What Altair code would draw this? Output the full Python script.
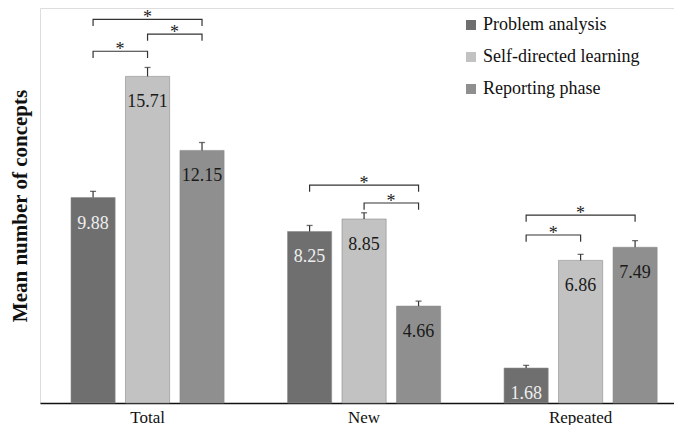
import altair as alt
import pandas as pd

groups = ["Total", "New", "Repeated"]
series = ["Problem analysis", "Self-directed learning", "Reporting phase"]
colors = ["#6f6f6f", "#c2c2c2", "#8f8f8f"]

mean_pa = [9.88, 8.25, 1.68]
mean_sdl = [15.71, 8.85, 6.86]
mean_rp = [12.15, 4.66, 7.49]
err_pa = [0.30, 0.29, 0.13]
err_sdl = [0.43, 0.30, 0.29]
err_rp = [0.38, 0.24, 0.32]

# significance brackets
br_group = ["Total", "Total", "Total", "New", "New", "Repeated", "Repeated"]
br_from = ["Problem analysis", "Self-directed learning", "Problem analysis",
           "Problem analysis", "Self-directed learning",
           "Problem analysis", "Problem analysis"]
br_to = ["Self-directed learning", "Reporting phase", "Reporting phase",
         "Reporting phase", "Reporting phase",
         "Self-directed learning", "Reporting phase"]
br_level = [16.92, 17.74, 18.45, 10.48, 9.62, 8.08, 9.04]
br_drop = 0.32

means = [mean_pa, mean_sdl, mean_rp]
errs = [err_pa, err_sdl, err_rp]
rows = []
for gi, g in enumerate(groups):
    for si, s in enumerate(series):
        rows.append({"group": g, "series": s, "mean": means[si][gi],
                     "top": means[si][gi] + errs[si][gi]})
df = pd.DataFrame(rows)

br_rows = []
star_rows = []
for i, (g, a, b, lv) in enumerate(zip(br_group, br_from, br_to, br_level)):
    for k, (s, v) in enumerate([(a, lv - br_drop), (a, lv), (b, lv), (b, lv - br_drop)]):
        br_rows.append({"bid": i, "k": k, "group": g, "series": s, "val": v})
    ia, ib = series.index(a), series.index(b)
    if ib - ia == 2:
        star_rows.append({"group": g, "series": series[ia + 1], "val": lv, "adj": 0})
    else:
        star_rows.append({"group": g, "series": a, "val": lv, "adj": 1})
br_df = pd.DataFrame(br_rows)
star_df = pd.DataFrame(star_rows)

FONT = "Liberation Serif"

x_enc = alt.X("group:N", sort=groups,
              scale=alt.Scale(paddingInner=0.293, paddingOuter=0.1105, align=0.648),
              axis=alt.Axis(title=None, labelAngle=0, ticks=False, domainColor="#111",
                            domainWidth=1.5, labelFont=FONT, labelFontSize=17,
                            labelColor="#111", labelPadding=6, grid=False))
xo_enc = alt.XOffset("series:N", sort=series,
                     scale=alt.Scale(paddingInner=0.19, paddingOuter=0))
y_scale = alt.Scale(domain=[0, 19], nice=False, zero=True)

bars = alt.Chart(df).mark_bar(stroke="#8a8a8a", strokeWidth=0.6).encode(
    x=x_enc, xOffset=xo_enc,
    y=alt.Y("mean:Q", scale=y_scale, stack=None,
            axis=alt.Axis(title="Mean number of concepts", labels=False, ticks=False,
                          domain=False, grid=False, titleFont=FONT, titleFontSize=21,
                          titleFontWeight="bold", titleColor="#111", titlePadding=10)),
    color=alt.Color("series:N", sort=series,
                    scale=alt.Scale(domain=series, range=colors),
                    legend=alt.Legend(orient="none", legendX=422, legendY=8, title=None,
                                      symbolType="square", symbolSize=100,
                                      symbolStrokeWidth=0, labelFont=FONT,
                                      labelFontSize=18, labelColor="#111",
                                      labelOffset=3, rowPadding=14)),
)

err_rule = alt.Chart(df).mark_rule(color="#333", strokeWidth=1.2).encode(
    x=x_enc, xOffset=xo_enc, y="mean:Q", y2="top:Q")
err_cap = alt.Chart(df).mark_tick(color="#333", thickness=1.3, size=6).encode(
    x=x_enc, xOffset=xo_enc, y="top:Q")

labels = alt.Chart(df).mark_text(font=FONT, fontSize=18, baseline="middle", dy=26).encode(
    x=x_enc, xOffset=xo_enc, y="mean:Q",
    text=alt.Text("mean:Q", format=".2f"),
    color=alt.condition(alt.datum.series == "Problem analysis",
                        alt.value("#eeeeee"), alt.value("#1a1a1a")))

brackets = alt.Chart(br_df).mark_line(color="#333", strokeWidth=1.2).encode(
    x=x_enc, xOffset=xo_enc, y="val:Q", detail="bid:N", order="k:Q")

stars_span = alt.Chart(star_df).transform_filter("datum.adj == 0").mark_text(
    font=FONT, fontSize=18, baseline="alphabetic", dy=4, fill="#222").encode(
    x=x_enc, xOffset=xo_enc, y="val:Q", text=alt.value("*"), color=alt.value("#222"))
stars_adj = alt.Chart(star_df).transform_filter("datum.adj == 1").mark_text(
    font=FONT, fontSize=18, baseline="alphabetic", dy=4, dx=27, fill="#222").encode(
    x=x_enc, xOffset=xo_enc, y="val:Q", text=alt.value("*"), color=alt.value("#222"))

chart = alt.layer(bars, err_rule, err_cap, labels, brackets, stars_span, stars_adj).properties(
    width=634, height=395,
    autosize=alt.AutoSizeParams(type="none"),
    padding={"left": 32, "top": 0, "right": 0, "bottom": 22},
).configure_view(stroke=None).configure(background="white")

chart.save("out.html", embed_options={"renderer": "svg", "actions": False})
